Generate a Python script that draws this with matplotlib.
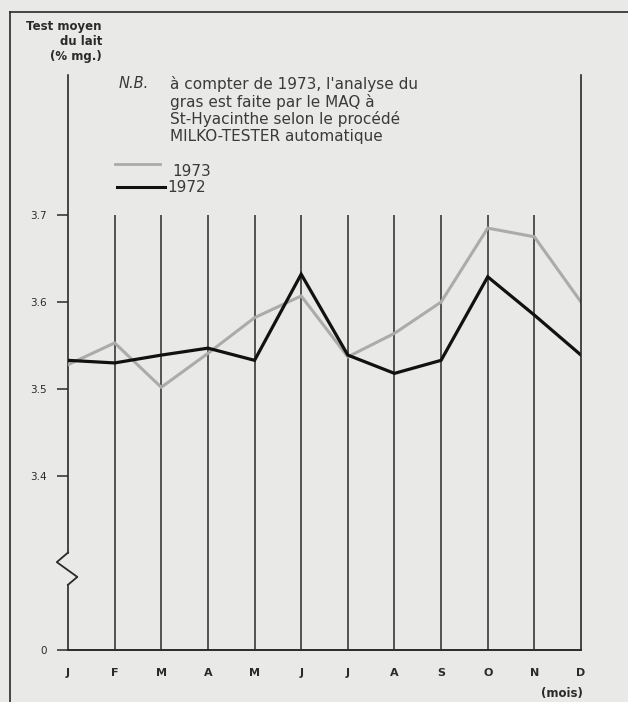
import matplotlib.pyplot as plt

months = ['J', 'F', 'M', 'A', 'M', 'J', 'J', 'A', 'S', 'O', 'N', 'D']
fat_1973 = [3.528, 3.553, 3.502, 3.541, 3.582, 3.607, 3.537, 3.564, 3.600, 3.685, 3.675, 3.600]
fat_1972 = [3.533, 3.530, 3.539, 3.547, 3.533, 3.632, 3.539, 3.518, 3.533, 3.629, 3.585, 3.539]
ytick_vals = [3.4, 3.5, 3.6, 3.7]

bg = '#e9e9e7'
ink = '#2a2a2a'
y_zero = 3.2   # plotted position of the "0" baseline (broken axis)
y_top = 3.861

fig = plt.figure(figsize=(6.28, 7.02), dpi=100, facecolor=bg)
ax = fig.add_axes([68/628, 1-650/702, (581-68)/628, (650-75)/702])
ax.set_facecolor(bg)
ax.set_xlim(0, len(months)-1)
ax.set_ylim(y_zero, y_top)

x = list(range(len(months)))

# month verticals
ax.vlines(x[1:-1], y_zero, 3.7, color=ink, lw=1.1)
for s in ['top', 'left']:
    ax.spines[s].set_visible(False)
ax.spines['right'].set_color(ink)
ax.spines['right'].set_linewidth(1.2)
ax.spines['bottom'].set_color(ink)
ax.spines['bottom'].set_linewidth(1.4)

# left axis with break
ax.plot([0, 0], [3.312, y_top], color=ink, lw=1.2, clip_on=False)
ax.plot([0, 0], [y_zero, 3.275], color=ink, lw=1.2, clip_on=False)
ax.plot([0, -0.24, 0.2, 0], [3.312, 3.301, 3.284, 3.275], color=ink, lw=1.3,
        clip_on=False)

ax.plot(x, fat_1973, color='#ababab', lw=2.2, solid_joinstyle='miter')
ax.plot(x, fat_1972, color='#111111', lw=2.3, solid_joinstyle='miter')

ax.set_yticks([y_zero] + ytick_vals)
ax.set_yticklabels(['0'] + [str(v) for v in ytick_vals])
ax.tick_params(axis='y', direction='out', length=8, width=1.1, color=ink,
               labelsize=7.5, labelcolor=ink, pad=7)
ax.set_xticks(x)
ax.set_xticklabels(months, fontweight='bold')
ax.tick_params(axis='x', length=0, labelsize=8, labelcolor=ink, pad=13)

# outer frame
fig.add_artist(plt.Line2D([10/628, 10/628], [0, 1-12/702], color=ink, lw=1.2))
fig.add_artist(plt.Line2D([10/628, 1], [1-12/702, 1-12/702], color=ink, lw=1.2))

fig.text(102/628, 1-20/702, 'Test moyen\ndu lait\n(% mg.)', ha='right', va='top',
         fontsize=8.5, fontweight='bold', color=ink, linespacing=1.22)
fig.text(562/628, 1-693/702, '(mois)', ha='center', va='center',
         fontsize=8.5, fontweight='bold', color=ink)

txt = '#3a3a3a'
fig.text(119/628, 1-84/702, 'N.B.', style='italic', fontsize=10.5, color=txt, va='center')
note = ["à compter de 1973, l'analyse du", 'gras est faite par le MAQ à',
        'St-Hyacinthe selon le procédé', 'MILKO-TESTER automatique']
for i, line in enumerate(note):
    fig.text(170/628, 1-(84+17.5*i)/702, line, fontsize=11, color=txt, va='center')

fig.add_artist(plt.Line2D([115/628, 160/628], [1-164/702]*2, color='#ababab', lw=2))
fig.text(172/628, 1-171/702, '1973', fontsize=11, color=txt, va='center')
fig.add_artist(plt.Line2D([117/628, 165/628], [1-187/702]*2, color='#111111', lw=2.2))
fig.text(167/628, 1-187/702, '1972', fontsize=11, color=txt, va='center')

fig.savefig('out.png', dpi=100, facecolor=bg)
